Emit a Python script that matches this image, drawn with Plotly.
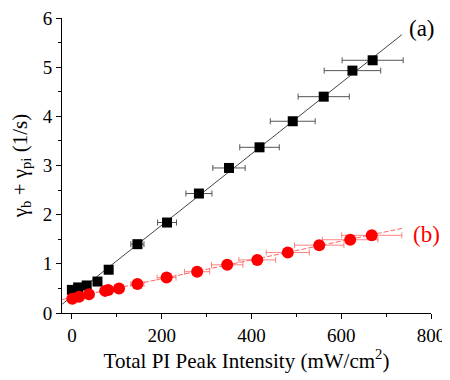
import plotly.graph_objects as go

# (a) black squares
a_x = [0, 14, 33, 57, 82, 146, 212, 283, 350, 418, 492, 561, 625, 670]
a_y = [0.47, 0.52, 0.56, 0.64, 0.88, 1.40, 1.84, 2.43, 2.95, 3.37, 3.90, 4.40, 4.93, 5.14]
a_err = [0, 1.4, 3.3, 5.7, 8.2, 14.6, 21, 29, 36, 44, 50, 57, 63, 68]

# (b) red circles
b_x = [1, 16, 38, 74, 81, 105, 146, 211, 279, 346, 413, 481, 551, 620, 668]
b_y = [0.29, 0.33, 0.38, 0.45, 0.47, 0.50, 0.59, 0.72, 0.84, 0.98, 1.08, 1.23, 1.38, 1.49, 1.58]
b_err = [0, 1.6, 3.8, 7.4, 8.1, 10.5, 14.6, 21, 28, 35, 41, 48, 55, 62, 67]

# linear fits (end points)
fit_x = [-23, 735]
fit_a = [0.17, 5.66]
fit_b = [0.27, 1.72]

serif = "Liberation Serif, Times New Roman, serif"

fig = go.Figure()

fig.add_trace(go.Scatter(x=fit_x, y=fit_a, mode='lines',
                         line=dict(color='#444', width=1), hoverinfo='skip'))
fig.add_trace(go.Scatter(x=fit_x, y=fit_b, mode='lines',
                         line=dict(color='rgba(255,60,60,0.8)', width=1, dash='5px,2px'),
                         hoverinfo='skip'))

fig.add_trace(go.Scatter(
    x=a_x, y=a_y, mode='markers',
    marker=dict(symbol='square', size=10, color='black'),
    error_x=dict(type='data', array=a_err, color='#555', thickness=1, width=3)
))
fig.add_trace(go.Scatter(
    x=b_x, y=b_y, mode='markers',
    marker=dict(symbol='circle', size=12, color='#ff0000'),
    error_x=dict(type='data', array=b_err, color='rgba(255,80,80,0.7)', thickness=1, width=3)
))

fig.add_annotation(x=735, y=5.66, text="(a)", showarrow=False, xanchor='left', yanchor='bottom',
                   xshift=5, yshift=-8, font=dict(family=serif, size=23, color='black'))
fig.add_annotation(x=735, y=1.72, text="(b)", showarrow=False, xanchor='left', yanchor='middle',
                   xshift=9, yshift=-6, font=dict(family=serif, size=23, color='red'))

fig.update_layout(
    width=450, height=380,
    margin=dict(l=54, r=27, t=10, b=75),
    plot_bgcolor='white', paper_bgcolor='white',
    showlegend=False,
    font=dict(family=serif, size=19, color='black'),
    xaxis=dict(
        range=[-22, 800], tickvals=[0, 200, 400, 600, 800], automargin=False,
        ticks='outside', ticklen=5, tickwidth=1, tickcolor='black',
        ticklabeloverflow='allow',
        minor=dict(tickvals=[100, 300, 500, 700], ticks='outside', ticklen=3, tickcolor='black'),
        showline=True, linecolor='black', linewidth=1, showgrid=False, zeroline=False,
        title=dict(text="Total PI Peak Intensity (mW/cm<sup>2</sup>)", font=dict(size=21), standoff=8),
    ),
    yaxis=dict(
        range=[0, 6], tickvals=[0, 1, 2, 3, 4, 5, 6], automargin=False,
        ticks='outside', ticklen=5, tickwidth=1, tickcolor='black',
        ticklabeloverflow='allow',
        minor=dict(dtick=0.5, ticks='outside', ticklen=3, tickcolor='black'),
        showline=True, linecolor='black', linewidth=1, showgrid=False, zeroline=False,
        title=dict(text="γ<sub>b</sub> + γ<sub>pi</sub> (1/s)", font=dict(size=21), standoff=16),
    ),
)

fig.write_html("out.html")
